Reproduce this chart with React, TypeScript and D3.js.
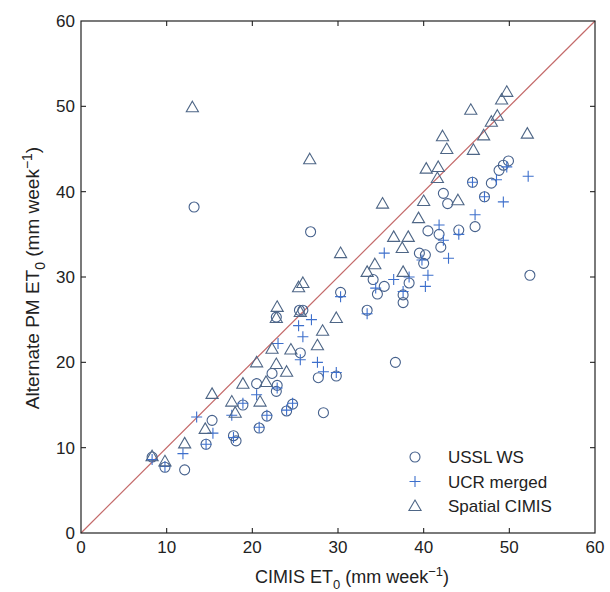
import * as d3 from "d3";
import { useEffect, useRef } from "react";

// [CIMIS ET0, alternate ET0] pairs
const usslWS: [number, number][] = [
  [8.3, 8.9], [9.8, 7.7], [12.1, 7.4], [13.2, 38.2], [14.6, 10.4], [15.3, 13.2],
  [17.8, 11.4], [18.1, 10.8], [18.9, 15.0], [20.5, 17.5], [20.8, 12.3], [21.7, 13.7],
  [22.3, 18.7], [22.9, 17.3], [22.8, 16.6], [22.8, 25.3], [24.0, 14.3], [24.7, 15.1],
  [25.5, 26.1], [25.9, 26.1], [25.6, 21.1], [26.8, 35.3], [27.7, 18.2], [28.3, 14.1],
  [29.8, 18.4], [30.3, 28.2], [33.4, 26.1], [34.1, 29.7], [34.6, 28.0], [35.4, 28.9],
  [36.7, 20.0], [37.6, 27.9], [37.6, 27.0], [38.3, 29.3], [39.5, 32.8], [40.2, 32.6],
  [40.0, 31.6], [40.5, 35.4], [41.8, 35.0], [42.0, 33.5], [42.3, 39.8], [42.8, 38.6],
  [44.1, 35.5], [45.7, 41.1], [46.0, 35.9], [47.1, 39.4], [47.9, 41.0], [48.8, 42.5],
  [49.3, 43.1], [49.9, 43.6], [52.4, 30.2],
];

const ucrMerged: [number, number][] = [
  [8.3, 8.6], [9.8, 7.8], [11.9, 9.3], [13.5, 13.6], [14.6, 10.4], [15.4, 11.7],
  [17.6, 13.8], [17.8, 11.2], [18.9, 15.2], [20.5, 16.2], [20.8, 12.4], [21.7, 13.8],
  [22.9, 17.0], [23.0, 22.2], [24.0, 14.4], [24.7, 15.2], [25.4, 24.3], [25.9, 23.0],
  [25.6, 20.3], [26.9, 25.0], [27.6, 20.0], [28.3, 18.9], [29.8, 18.8], [30.3, 27.7],
  [33.4, 25.7], [34.4, 28.7], [35.4, 32.8], [36.5, 29.7], [37.6, 28.3], [38.3, 30.0],
  [39.8, 32.0], [40.5, 30.2], [40.2, 28.9], [41.8, 36.1], [42.3, 34.3], [42.9, 32.2],
  [44.1, 35.0], [45.7, 41.1], [46.0, 37.3], [47.1, 39.4], [48.5, 41.4], [49.3, 38.8],
  [49.7, 42.9], [52.2, 41.8],
];

const spatialCIMIS: [number, number][] = [
  [8.3, 9.0], [9.8, 8.4], [12.1, 10.5], [13.0, 49.9], [14.5, 12.2], [15.3, 16.3],
  [17.6, 15.4], [18.0, 14.1], [18.9, 17.5], [20.5, 20.0], [20.9, 15.4], [21.6, 17.7],
  [22.3, 21.6], [22.8, 19.8], [22.9, 26.5], [22.8, 25.2], [24.0, 18.9], [24.5, 21.5],
  [25.4, 28.8], [25.9, 29.3], [25.6, 25.9], [26.7, 43.8], [27.6, 22.0], [28.2, 23.7],
  [29.8, 25.2], [30.3, 32.8], [33.4, 30.6], [34.3, 31.5], [35.2, 38.6], [36.5, 34.7],
  [37.5, 33.4], [37.6, 30.6], [38.2, 34.7], [39.4, 36.9], [40.0, 38.9], [40.3, 42.7],
  [41.7, 42.9], [41.6, 41.6], [42.2, 46.5], [42.7, 45.0], [44.0, 39.0], [45.5, 49.6],
  [45.8, 44.9], [47.0, 46.6], [47.9, 48.2], [48.6, 48.9], [49.1, 50.8], [49.7, 51.7],
  [52.1, 46.8],
];

const ticks = [0, 10, 20, 30, 40, 50, 60];
const legendLabels = ["USSL WS", "UCR merged", "Spatial CIMIS"];

const font = "'Liberation Sans', Arial, Helvetica, sans-serif";
const circleColor = "#46618c";
const plusColor = "#3d6fcc";
const triColor = "#4e6686";

export default function App() {
  const ref = useRef<SVGSVGElement>(null);

  useEffect(() => {
    const svg = d3.select(ref.current);
    svg.selectAll("*").remove();

    const margin = { top: 21, left: 81, right: 15, bottom: 59 };
    const W = 610, H = 592;
    const x = d3.scaleLinear().domain([0, 60]).range([margin.left, W - margin.right]);
    const y = d3.scaleLinear().domain([0, 60]).range([H - margin.bottom, margin.top]);

    // 1:1 line
    svg.append("line")
      .attr("x1", x(0)).attr("y1", y(0))
      .attr("x2", x(60)).attr("y2", y(60))
      .attr("stroke", "#c46a6a").attr("stroke-width", 1.2);

    // frame
    svg.append("rect")
      .attr("x", x(0)).attr("y", y(60))
      .attr("width", x(60) - x(0)).attr("height", y(0) - y(60))
      .attr("fill", "none").attr("stroke", "#222").attr("stroke-width", 1.2);

    // inward ticks, matlab style
    const tk = 5;
    const inner = ticks.slice(1, -1);
    const tg = svg.append("g").attr("stroke", "#222").attr("stroke-width", 1.1);
    inner.forEach(t => {
      tg.append("line").attr("x1", x(t)).attr("x2", x(t)).attr("y1", y(0)).attr("y2", y(0) - tk);
      tg.append("line").attr("x1", x(t)).attr("x2", x(t)).attr("y1", y(60)).attr("y2", y(60) + tk);
      tg.append("line").attr("y1", y(t)).attr("y2", y(t)).attr("x1", x(0)).attr("x2", x(0) + tk);
      tg.append("line").attr("y1", y(t)).attr("y2", y(t)).attr("x1", x(60)).attr("x2", x(60) - tk);
    });

    // tick labels
    svg.append("g").selectAll("text").data(ticks).enter().append("text")
      .attr("x", d => x(d)).attr("y", y(0) + 20)
      .attr("text-anchor", "middle")
      .style("font-family", font).style("font-size", "17px").attr("fill", "#222")
      .text(d => d);
    svg.append("g").selectAll("text").data(ticks).enter().append("text")
      .attr("x", x(0) - 6).attr("y", d => y(d) + 6)
      .attr("text-anchor", "end")
      .style("font-family", font).style("font-size", "17px").attr("fill", "#222")
      .text(d => d);

    // axis titles
    const xt = svg.append("text")
      .attr("x", 352).attr("y", 583)
      .attr("text-anchor", "middle")
      .style("font-family", font).style("font-size", "18px").attr("fill", "#222");
    xt.append("tspan").text("CIMIS ET");
    xt.append("tspan").attr("dy", 6).style("font-size", "13px").text("0");
    xt.append("tspan").attr("dy", -6).text(" (mm week");
    xt.append("tspan").attr("dy", -7).style("font-size", "13px").text("−1");
    xt.append("tspan").attr("dy", 7).text(")");

    const yt = svg.append("text")
      .attr("transform", `translate(39, 278) rotate(-90)`)
      .attr("text-anchor", "middle")
      .style("font-family", font).style("font-size", "19px").attr("fill", "#222");
    yt.append("tspan").text("Alternate PM ET");
    yt.append("tspan").attr("dy", 6).style("font-size", "14px").text("0");
    yt.append("tspan").attr("dy", -6).text(" (mm week");
    yt.append("tspan").attr("dy", -7).style("font-size", "14px").text("−1");
    yt.append("tspan").attr("dy", 7).text(")");

    const tri = d3.symbol().type(d3.symbolTriangle).size(64);

    const drawCircle = (g: any, cx: number, cy: number) =>
      g.append("circle").attr("cx", cx).attr("cy", cy).attr("r", 5)
        .attr("fill", "none").attr("stroke", circleColor).attr("stroke-width", 1.1);
    const drawPlus = (g: any, cx: number, cy: number) =>
      g.append("path").attr("d", `M${cx - 5.5},${cy}H${cx + 5.5}M${cx},${cy - 5.5}V${cy + 5.5}`)
        .attr("stroke", plusColor).attr("stroke-width", 1.1).attr("fill", "none");
    const drawTri = (g: any, cx: number, cy: number) =>
      g.append("path").attr("d", tri()).attr("transform", `translate(${cx},${cy + 1})`)
        .attr("fill", "none").attr("stroke", triColor).attr("stroke-width", 1.1);

    const pts = svg.append("g");
    usslWS.forEach(d => drawCircle(pts, x(d[0]), y(d[1])));
    ucrMerged.forEach(d => drawPlus(pts, x(d[0]), y(d[1])));
    spatialCIMIS.forEach(d => drawTri(pts, x(d[0]), y(d[1])));

    // legend
    const lg = svg.append("g");
    const drawers = [drawCircle, drawPlus, drawTri];
    legendLabels.forEach((lab, i) => {
      const ly = 457 + i * 24.5;
      drawers[i](lg, 415, ly);
      lg.append("text").attr("x", 448).attr("y", ly + 6)
        .style("font-family", font).style("font-size", "17px").attr("fill", "#222")
        .text(lab);
    });
  }, []);

  return (
    <svg ref={ref} width={610} height={592}
      style={{ position: "absolute", left: 0, top: 0, background: "#fff" }} />
  );
}
